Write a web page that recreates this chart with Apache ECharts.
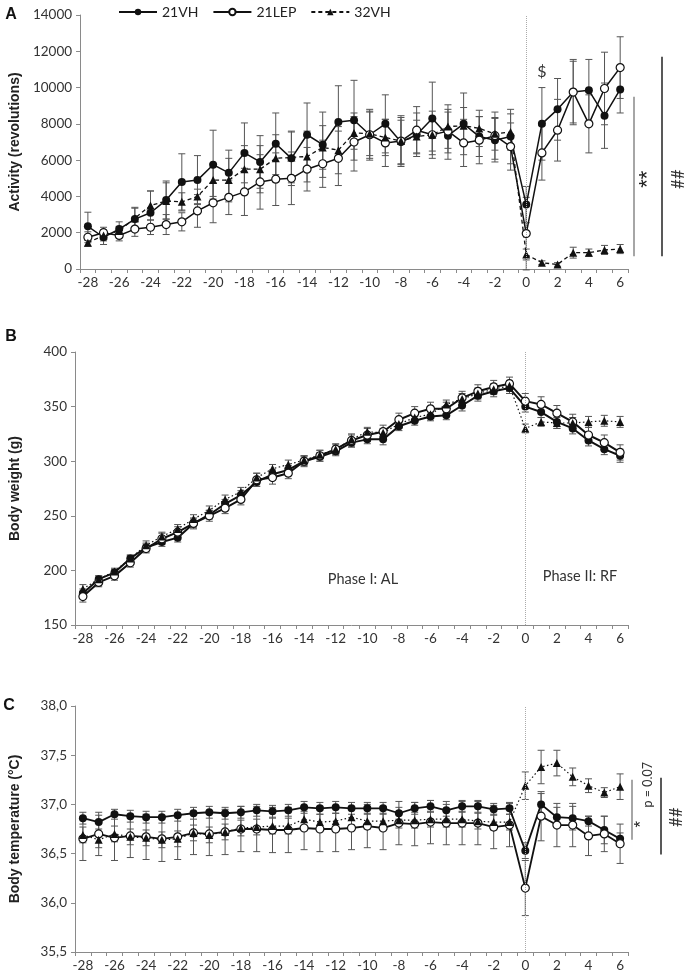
<!DOCTYPE html>
<html>
<head>
<meta charset="utf-8">
<script src="https://cdn.jsdelivr.net/npm/echarts@6/dist/echarts.min.js"></script>
<style>
  html, body { margin: 0; padding: 0; background: #fff; }
  #main { width: 685px; height: 976px; }
</style>
</head>
<body>
<div id="main"></div>
<script>
// days of the experiment (phase I: AL, phase II: RF)
var days = ['-28','-27','-26','-25','-24','-23','-22','-21','-20','-19','-18','-17','-16','-15','-14','-13','-12','-11','-10','-9','-8','-7','-6','-5','-4','-3','-2','-1','0','1','2','3','4','5','6'];
var groups = ['21VH', '21LEP', '32VH'];

// A - activity (revolutions)
var actVH   = [2350,1750,2200,2750,3100,3800,4800,4900,5750,5300, 6400,5900,6900,6100,7400,6850,8100,8200,7400,8000, 7000,7400,8300,7350,8000,7300,7100,7300, 3550,8000,8800,9750,9850,8450,9900];
var actLEP  = [1750,2000,1850,2200,2300,2450,2600,3200,3650,3950, 4250,4800,4950,5000,5500,5800,6100,7000,7400,6950, 7050,7650,7400,7600,6950,7100,7350,6750, 1950,6400,7650,9750,8000,9950,11100];
var act32   = [1450,1850,2100,2800,3500,3750,3700,4000,4900,4900, 5500,5500,6100,6150,6200,6700,6550,7500,7450,7250, 7050,7300,7400,7850,7900,7750,7450,7550, 800,350,250,900,900,1050,1100];
var actVHe  = [780,400,400,600,1200,1050,1550,1350,1900,1250, 1650,1450,1700,1500,1750,1800,2000,2200,1300,1600, 1200,1200,2000,1300,1700,1100,1200,1500, 1000,2000,1700,1700,1700,1800,1300];
var actLEPe = [300,300,300,400,400,550,500,900,1100,950, 1300,1500,1450,1450,1200,1300,1500,1600,1400,1300, 1400,1300,1300,1200,1300,1300,1300,1300, 2000,1500,1700,1800,1600,2000,1700];
var act32e  = [200,300,250,600,800,1000,500,400,900,1200, 1300,1300,1300,1400,1400,1200,1300,900,1200,1000, 1300,900,900,1200,1000,1000,900,1000, 300,100,100,300,200,250,250];

// B - body weight (g)
var bwVH   = [179,192,198,211,221,226,230,243,251,261, 269,281,288,292,300,304,309,317,320,320, 332,337,341,342,351,360,364,367, 350,345,336,330,319,311,305];
var bwLEP  = [176,189,195,207,220,229,235,243,250,257, 265,283,285,289,300,305,311,319,324,327, 338,344,348,348,358,364,368,371, 355,352,344,336,324,317,308];
var bw32   = [183,192,199,211,223,231,238,247,255,265, 272,285,293,297,301,306,311,320,327,326, 334,340,343,352,357,362,366,369, 330,336,335,335,336,337,336];
var bwVHe  = [4,3,3,3,4,4,4,4,4,4, 4,4,4,4,4,4,4,4,4,5, 4,4,4,4,5,5,5,5, 5,5,6,5,5,5,6];
var bwLEPe = [5,4,4,4,4,5,5,5,5,5, 5,6,6,5,5,5,5,6,6,6, 6,6,6,6,6,6,6,6, 7,7,7,7,7,7,7];
var bw32e  = [4,3,3,3,4,4,4,4,4,4, 4,4,4,4,4,4,4,4,4,4, 4,4,4,4,5,5,5,5, 4,4,5,5,5,5,5];

// C - body temperature (°C)
var tVH   = [36.86,36.82,36.90,36.88,36.87,36.87,36.89,36.91,36.92,36.91, 36.92,36.94,36.93,36.94,36.97,36.96,36.97,36.96,36.96,36.96, 36.91,36.96,36.98,36.94,36.98,36.98,36.95,36.96, 36.53,37.00,36.87,36.86,36.83,36.74,36.65];
var tLEP  = [36.65,36.70,36.66,36.68,36.67,36.65,36.67,36.71,36.70,36.72, 36.75,36.75,36.74,36.74,36.76,36.75,36.75,36.76,36.78,36.76, 36.81,36.80,36.82,36.81,36.81,36.81,36.77,36.79, 36.15,36.88,36.79,36.79,36.68,36.70,36.60];
var t32   = [36.69,36.64,36.70,36.67,36.66,36.64,36.65,36.71,36.69,36.72, 36.76,36.77,36.78,36.78,36.85,36.82,36.83,36.87,36.83,36.83, 36.84,36.84,36.85,36.85,36.85,36.83,36.82,36.82, 37.19,37.38,37.42,37.28,37.19,37.12,37.18];
var tVHe  = [0.06,0.07,0.05,0.06,0.06,0.06,0.06,0.06,0.06,0.06, 0.06,0.06,0.06,0.06,0.06,0.06,0.06,0.06,0.06,0.06, 0.06,0.06,0.06,0.06,0.06,0.06,0.06,0.06, 0.08,0.11,0.10,0.12,0.05,0.14,0.06];
var tLEPe = [0.22,0.22,0.23,0.22,0.23,0.23,0.23,0.22,0.22,0.23, 0.23,0.23,0.23,0.23,0.22,0.23,0.23,0.22,0.22,0.22, 0.22,0.22,0.22,0.22,0.22,0.22,0.22,0.22, 0.28,0.25,0.22,0.22,0.2,0.18,0.2];
var t32e  = [0.08,0.08,0.08,0.08,0.08,0.08,0.08,0.08,0.08,0.08, 0.08,0.08,0.08,0.08,0.08,0.08,0.08,0.08,0.08,0.08, 0.08,0.08,0.08,0.08,0.08,0.08,0.08,0.08, 0.14,0.17,0.13,0.09,0.07,0.05,0.13];

var axisGray = '#8a8a8a';
var ink = '#111';
var labelFont = 'Lato, "Open Sans", sans-serif';
var titleFont = '"Liberation Sans", Arial, sans-serif';

var chartDom = document.getElementById('main');
var myChart = echarts.init(chartDom);

function errRender(params, api) {
  var x = api.value(0);
  var top = api.coord([x, api.value(2)]);
  var bot = api.coord([x, api.value(1)]);
  var w = 3.5;
  var st = { stroke: '#555', lineWidth: 1 };
  return {
    type: 'group',
    children: [
      { type: 'line', shape: { x1: top[0], y1: top[1], x2: bot[0], y2: bot[1] }, style: st },
      { type: 'line', shape: { x1: top[0] - w, y1: top[1], x2: top[0] + w, y2: top[1] }, style: st },
      { type: 'line', shape: { x1: bot[0] - w, y1: bot[1], x2: bot[0] + w, y2: bot[1] }, style: st }
    ]
  };
}

function errSeries(gi, vals, errs) {
  return {
    type: 'custom', xAxisIndex: gi, yAxisIndex: gi, z: 2, silent: true,
    renderItem: errRender,
    encode: { x: 0, y: [1, 2] },
    data: vals.map(function (v, i) { return [i, v - errs[i], v + errs[i]]; })
  };
}

function lineSeries(name, gi, vals, kind, dash, width) {
  var s = {
    name: name, type: 'line', xAxisIndex: gi, yAxisIndex: gi, data: vals,
    z: 3, showAllSymbol: true, symbol: 'circle', symbolSize: 8,
    lineStyle: { color: ink, width: width, type: dash },
    itemStyle: { color: ink }
  };
  if (kind === 'open') {
    s.itemStyle = { color: '#fff', borderColor: ink, borderWidth: 1.2 };
  } else if (kind === 'tri') {
    s.symbol = 'triangle';
    s.symbolSize = 8;
  }
  return s;
}

function zeroLine() {
  return {
    silent: true, symbol: 'none', label: { show: false },
    lineStyle: { type: 'dotted', color: '#aaa', width: 1 },
    data: [{ xAxis: days.indexOf('0') }]
  };
}

var grids = [
  { left: 75, right: 57, top: 15, height: 254 },
  { left: 75, right: 57, top: 352, height: 273 },
  { left: 75, right: 57, top: 706, height: 246 }
];

function xAxisDef(gi) {
  return {
    type: 'category', gridIndex: gi, data: days, boundaryGap: true,
    axisLine: { lineStyle: { color: axisGray, width: 1 } },
    axisTick: { show: true, length: 4, interval: 0, lineStyle: { color: axisGray } },
    axisLabel: { interval: 1, color: '#333', fontSize: 13.5, fontFamily: labelFont, margin: 7 },
    splitLine: { show: false }
  };
}

function yAxisDef(gi, name, min, max, step, fmt) {
  return {
    type: 'value', gridIndex: gi, min: min, max: max, interval: step,
    name: name, nameLocation: 'middle', nameGap: 53,
    nameTextStyle: { fontFamily: titleFont, fontWeight: 'bold', fontSize: 14, color: '#222' },
    axisLine: { show: true, lineStyle: { color: axisGray, width: 1 } },
    axisTick: { show: true, length: 4, lineStyle: { color: axisGray } },
    axisLabel: { color: '#333', fontSize: 13.5, fontFamily: labelFont, margin: 8, formatter: fmt },
    splitLine: { show: false }
  };
}

var plainFmt = function (v) { return String(v); };
var commaFmt = function (v) { return v.toFixed(1).replace('.', ','); };

var series = [
  errSeries(0, actLEP, actLEPe), errSeries(0, act32, act32e), errSeries(0, actVH, actVHe),
  lineSeries(groups[0], 0, actVH, 'filled', 'solid', 1.5),
  lineSeries(groups[1], 0, actLEP, 'open', 'solid', 1.5),
  lineSeries(groups[2], 0, act32, 'tri', [4, 3], 1.3),

  errSeries(1, bwLEP, bwLEPe), errSeries(1, bw32, bw32e), errSeries(1, bwVH, bwVHe),
  lineSeries(groups[0], 1, bwVH, 'filled', 'solid', 2),
  lineSeries(groups[1], 1, bwLEP, 'open', 'solid', 2),
  lineSeries(groups[2], 1, bw32, 'tri', [1.5, 2.5], 1.2),

  errSeries(2, tLEP, tLEPe), errSeries(2, t32, t32e), errSeries(2, tVH, tVHe),
  lineSeries(groups[0], 2, tVH, 'filled', 'solid', 1.8),
  lineSeries(groups[1], 2, tLEP, 'open', 'solid', 1.8),
  lineSeries(groups[2], 2, t32, 'tri', [1.5, 2.5], 1.2)
];
// dotted line at day 0 for every panel
series[3].markLine = zeroLine();
series[9].markLine = zeroLine();
series[15].markLine = zeroLine();

var option = {
  animation: false,
  backgroundColor: '#fff',
  legend: {
    data: groups, top: 0, left: 113, itemWidth: 38, itemHeight: 8, itemGap: 14,
    textStyle: { fontFamily: labelFont, fontSize: 14, color: '#222' }
  },
  grid: grids,
  xAxis: [xAxisDef(0), xAxisDef(1), xAxisDef(2)],
  yAxis: [
    yAxisDef(0, 'Activity (revolutions)', 0, 14000, 2000, plainFmt),
    yAxisDef(1, 'Body weight (g)', 150, 400, 50, plainFmt),
    yAxisDef(2, 'Body temperature (°C)', 35.5, 38, 0.5, commaFmt)
  ],
  series: series
};
option && myChart.setOption(option);

// annotations placed from data values
function px(gi, day, v) { return myChart.convertToPixel({ gridIndex: gi }, [days.indexOf(day), v]); }
function vline(x, y1, y2, color) {
  return { type: 'line', shape: { x1: x, y1: y1, x2: x, y2: y2 }, style: { stroke: color, lineWidth: 1.5 } };
}
function txt(x, y, s, size, opts) {
  opts = opts || {};
  return {
    type: 'text', x: x, y: y, rotation: opts.rot || 0,
    style: {
      text: s, fill: opts.color || '#222', font: (opts.bold ? 'bold ' : '') + size + 'px ' + (opts.family || labelFont),
      textAlign: opts.align || 'center', textVerticalAlign: 'middle'
    }
  };
}

var yA = function (v) { return px(0, '0', v)[1]; };
var yC = function (v) { return px(2, '0', v)[1]; };
var dollar = px(0, '1', 10850);

myChart.setOption({
  graphic: [
    txt(11, 15, 'A', 16, { bold: true, family: titleFont, color: '#111' }),
    txt(11, 337, 'B', 16, { bold: true, family: titleFont, color: '#111' }),
    txt(9, 706, 'C', 16, { bold: true, family: titleFont, color: '#111' }),
    txt(dollar[0], dollar[1], '$', 16, { color: '#333' }),
    vline(634, yA(9500), yA(700), '#888'),
    vline(662, yA(11700), yA(700), '#222'),
    txt(648, yA(4950), '**', 22, { rot: Math.PI / 2, color: '#222', family: titleFont }),
    txt(679, yA(4950), '##', 17, { rot: Math.PI / 2, color: '#333' }),
    txt(363, 579, 'Phase I: AL', 14.5, { color: '#333' }),
    txt(580, 576, 'Phase II: RF', 14.5, { color: '#333' }),
    vline(632, yC(37.25), yC(36.64), '#888'),
    vline(661, yC(37.27), yC(36.49), '#222'),
    txt(641, yC(36.80), '*', 17, { rot: Math.PI / 2, color: '#222', family: titleFont }),
    txt(648, yC(37.2), 'p = 0.07', 12.5, { rot: Math.PI / 2, color: '#333' }),
    txt(677, yC(36.87), '##', 17, { rot: Math.PI / 2, color: '#333' })
  ]
});
</script>
</body>
</html>
